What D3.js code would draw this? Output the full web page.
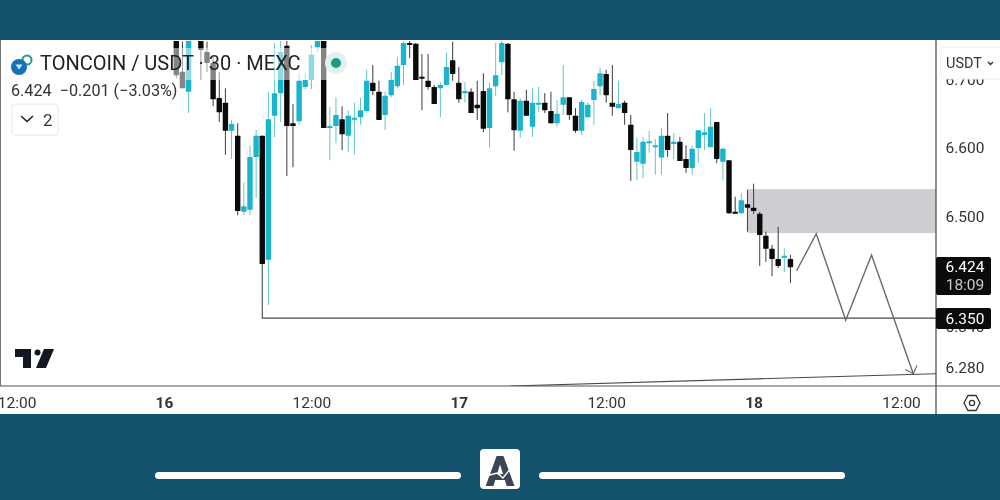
<!DOCTYPE html>
<html>
<head>
<meta charset="utf-8">
<script src="https://cdn.jsdelivr.net/npm/d3@7"></script>
<style>
  html, body { margin: 0; padding: 0; background: #14536b; overflow: hidden; }
  svg { display: block; font-family: Roboto, sans-serif; filter: blur(0.35px); }
</style>
</head>
<body>
<script>
// 30 min candles, first one is 16th 01:00, hours are counted from 16th 00:00
var firstHour = 1;
var opens = [6.759,6.710,6.681,6.770,6.759,6.739,6.723,6.672,6.665,6.624,6.617,6.506,6.509,6.586,6.617,6.436,6.646,6.679,6.748,6.635,6.638,6.688,6.698,6.746,6.759,6.628,6.631,6.641,6.617,6.641,6.644,6.653,6.694,6.681,6.647,6.676,6.689,6.720,6.752,6.751,6.703,6.697,6.688,6.686,6.691,6.727,6.694,6.679,6.681,6.662,6.682,6.628,6.689,6.724,6.751,6.670,6.624,6.668,6.630,6.663,6.665,6.653,6.635,6.662,6.673,6.646,6.624,6.644,6.669,6.689,6.707,6.665,6.657,6.665,6.633,6.579,6.576,6.608,6.600,6.585,6.617,6.605,6.608,6.583,6.570,6.599,6.618,6.600,6.637,6.579,6.581,6.506,6.504,6.517,6.512,6.503,6.471,6.452,6.437,6.440,6.437];
var highs = [6.759,6.754,6.759,6.775,6.759,6.754,6.732,6.710,6.686,6.640,6.635,6.549,6.603,6.625,6.617,6.681,6.752,6.755,6.755,6.663,6.708,6.708,6.749,6.759,6.759,6.659,6.673,6.660,6.654,6.665,6.672,6.713,6.720,6.697,6.681,6.710,6.732,6.755,6.755,6.752,6.736,6.736,6.691,6.695,6.738,6.754,6.717,6.695,6.686,6.697,6.708,6.694,6.752,6.755,6.752,6.681,6.672,6.684,6.686,6.688,6.679,6.681,6.669,6.720,6.673,6.657,6.669,6.665,6.697,6.716,6.713,6.720,6.697,6.668,6.647,6.614,6.615,6.624,6.612,6.628,6.650,6.621,6.615,6.603,6.603,6.625,6.650,6.657,6.637,6.600,6.581,6.528,6.533,6.538,6.547,6.506,6.477,6.458,6.484,6.453,6.443];
var lows = [6.701,6.686,6.650,6.762,6.698,6.710,6.660,6.637,6.589,6.583,6.501,6.501,6.501,6.526,6.430,6.370,6.615,6.637,6.558,6.571,6.633,6.685,6.685,6.739,6.628,6.581,6.606,6.596,6.593,6.589,6.633,6.650,6.676,6.640,6.625,6.673,6.686,6.691,6.730,6.698,6.654,6.684,6.663,6.644,6.691,6.697,6.665,6.665,6.650,6.640,6.622,6.600,6.675,6.705,6.651,6.595,6.614,6.646,6.615,6.651,6.650,6.635,6.630,6.647,6.640,6.621,6.618,6.643,6.633,6.676,6.665,6.646,6.657,6.633,6.551,6.552,6.555,6.592,6.560,6.560,6.586,6.583,6.580,6.563,6.560,6.577,6.596,6.600,6.577,6.552,6.503,6.503,6.503,6.477,6.503,6.427,6.433,6.412,6.424,6.418,6.402];
var closes = [6.705,6.686,6.759,6.765,6.742,6.723,6.670,6.651,6.624,6.634,6.507,6.514,6.586,6.617,6.430,6.641,6.679,6.739,6.631,6.631,6.697,6.698,6.735,6.759,6.628,6.631,6.647,6.619,6.646,6.643,6.654,6.697,6.682,6.640,6.675,6.698,6.719,6.752,6.749,6.698,6.701,6.688,6.663,6.691,6.717,6.707,6.670,6.682,6.650,6.657,6.627,6.686,6.705,6.752,6.670,6.625,6.668,6.646,6.665,6.665,6.654,6.635,6.649,6.673,6.647,6.624,6.666,6.662,6.685,6.708,6.676,6.659,6.663,6.650,6.596,6.593,6.608,6.609,6.603,6.617,6.596,6.608,6.580,6.570,6.598,6.625,6.622,6.630,6.583,6.598,6.504,6.503,6.523,6.512,6.507,6.472,6.452,6.437,6.427,6.442,6.425];

// axis labels
var timeTicks = [-12, 0, 12, 24, 36, 48, 60];
var timeLabels = ["12:00", "16", "12:00", "17", "12:00", "18", "12:00"];
var priceTicks = [6.7, 6.6, 6.5, 6.34, 6.28];

// drawings on the chart, in hours and price
var zoneHours = [47.5, 62.9];
var zonePrices = [6.539, 6.475];
var pathHours = [51.5, 53.1, 55.5, 57.6, 61.0];
var pathPrices = [6.420, 6.474, 6.348, 6.443, 6.270];
var arrowHours = [60.35, 61.0, 61.3];
var arrowPrices = [6.276, 6.270, 6.282];
var levelHours = [8, 8, 62.9];
var levelPrices = [6.430, 6.351, 6.351];
var trendHours = [28.2, 62.9];
var trendPrices = [6.252, 6.270];

var lastPrice = "6.424", lastCountdown = "18:09", levelLabel = "6.350";

var w = 1000, h = 500;
var paneTop = 40, paneBottom = 414, axisX = 936, axisY = 386;
var upColor = "#1bb4cd", upWick = "#62c6c9", downColor = "#0b0b0b", downWick = "#3b3b3b";
var bodyWidth = 5.4;

var x = d3.scaleLinear().domain([0, 60]).range([164, 901]);
var y = d3.scaleLinear().domain([6.755, 6.28]).range([41, 366.8]);

var svg = d3.select("body").append("svg").attr("width", w).attr("height", h);

svg.append("rect").attr("width", w).attr("height", h).attr("fill", "#14536b");
svg.append("rect").attr("y", paneTop).attr("width", w).attr("height", paneBottom - paneTop).attr("fill", "#fff");

svg.append("clipPath").attr("id", "pane").append("rect")
  .attr("x", 0).attr("y", 41).attr("width", axisX).attr("height", axisY - 41);

var pane = svg.append("g").attr("clip-path", "url(#pane)");

// gray zone goes under the candles
pane.append("rect")
  .attr("x", x(zoneHours[0]))
  .attr("y", y(zonePrices[0]))
  .attr("width", x(zoneHours[1]) - x(zoneHours[0]))
  .attr("height", y(zonePrices[1]) - y(zonePrices[0]))
  .attr("fill", "#cfcdd2");

var line = d3.line().x(function(d) { return x(d[0]); }).y(function(d) { return y(d[1]); });

var candles = pane.selectAll("g.candle")
  .data(d3.range(opens.length))
  .enter()
  .append("g")
  .attr("class", "candle");

candles.append("line")
  .attr("x1", function(i) { return x(firstHour + i / 2); })
  .attr("x2", function(i) { return x(firstHour + i / 2); })
  .attr("y1", function(i) { return y(highs[i]); })
  .attr("y2", function(i) { return y(lows[i]); })
  .attr("stroke", function(i) { return closes[i] >= opens[i] ? upWick : downWick; })
  .attr("stroke-width", 1);

candles.append("rect")
  .attr("x", function(i) { return x(firstHour + i / 2) - bodyWidth / 2; })
  .attr("y", function(i) { return y(Math.max(opens[i], closes[i])); })
  .attr("width", bodyWidth)
  .attr("height", function(i) { return Math.max(2, Math.abs(y(opens[i]) - y(closes[i]))); })
  .attr("rx", 0.6)
  .attr("fill", function(i) { return closes[i] >= opens[i] ? upColor : downColor; });

// the level line, projected path and the long trend line
pane.append("path")
  .attr("d", line(d3.zip(levelHours, levelPrices)))
  .attr("fill", "none").attr("stroke", "#4a4a4a").attr("stroke-width", 1.1);
pane.append("path")
  .attr("d", line(d3.zip(trendHours, trendPrices)))
  .attr("fill", "none").attr("stroke", "#4a4a4a").attr("stroke-width", 1.1);
pane.append("path")
  .attr("d", line(d3.zip(pathHours, pathPrices)))
  .attr("fill", "none").attr("stroke", "#6a6a6a").attr("stroke-width", 1.4);
pane.append("path")
  .attr("d", line(d3.zip(arrowHours, arrowPrices)))
  .attr("fill", "none").attr("stroke", "#6a6a6a").attr("stroke-width", 1.2);

// legend backdrop fades whatever runs under the title
svg.append("rect").attr("x", 0).attr("y", 48).attr("width", 345).attr("height", 32).attr("fill", "#fff").attr("opacity", 0.5);
svg.append("rect").attr("x", 0).attr("y", 80).attr("width", 185).attr("height", 20).attr("fill", "#fff").attr("opacity", 0.5);

// frame
svg.append("line").attr("x1", 0.5).attr("x2", 0.5).attr("y1", paneTop).attr("y2", axisY).attr("stroke", "#777").attr("stroke-width", 1);
svg.append("line").attr("x1", axisX).attr("x2", axisX).attr("y1", paneTop).attr("y2", paneBottom).attr("stroke", "#444").attr("stroke-width", 1.2);
svg.append("line").attr("x1", 0).attr("x2", w).attr("y1", axisY).attr("y2", axisY).attr("stroke", "#555").attr("stroke-width", 1.2);

// time axis
var xAxis = d3.axisBottom(x)
  .tickValues(timeTicks)
  .tickSize(0)
  .tickFormat(function(d, i) { return timeLabels[i]; });
var gx = svg.append("g").attr("transform", "translate(0," + axisY + ")").call(xAxis);
gx.select(".domain").remove();
gx.selectAll("text")
  .attr("y", 11)
  .attr("dy", "0.71em")
  .attr("font-family", "Roboto, sans-serif")
  .attr("font-size", 15.5)
  .attr("fill", "#333")
  .attr("font-weight", function(d, i) { return timeLabels[i].length == 2 ? 700 : 400; });

// price axis
var yAxis = d3.axisRight(y)
  .tickValues(priceTicks)
  .tickSize(0)
  .tickFormat(d3.format(".3f"));
var gy = svg.append("g").attr("transform", "translate(" + axisX + ",0)").call(yAxis);
gy.select(".domain").remove();
gy.selectAll("text")
  .attr("x", 29)
  .attr("dy", "0.35em")
  .attr("text-anchor", "middle")
  .attr("font-family", "Roboto, sans-serif")
  .attr("font-size", 15.5)
  .attr("fill", "#333");

// currency button
svg.append("rect").attr("x", 941).attr("y", 47).attr("width", 70).attr("height", 32)
  .attr("rx", 3).attr("fill", "#fff").attr("stroke", "#eeeeee");
svg.append("text").attr("x", 946).attr("y", 68).attr("font-size", 14.5).attr("fill", "#333").text("USDT");
svg.append("path").attr("d", "M988 62 l2.5 2.5 l2.5 -2.5").attr("fill", "none").attr("stroke", "#333").attr("stroke-width", 1.4);

// last price and level labels
svg.append("rect").attr("x", axisX).attr("y", 257).attr("width", 55).attr("height", 38).attr("rx", 2).attr("fill", "#0b0b0b");
svg.append("text").attr("x", 965).attr("y", 272).attr("text-anchor", "middle").attr("font-size", 15.5).attr("fill", "#fff").text(lastPrice);
svg.append("text").attr("x", 965).attr("y", 290).attr("text-anchor", "middle").attr("font-size", 15.5).attr("fill", "#c9c9c9").text(lastCountdown);
svg.append("rect").attr("x", axisX).attr("y", 308).attr("width", 55).attr("height", 21).attr("rx", 2).attr("fill", "#0b0b0b");
svg.append("text").attr("x", 965).attr("y", 324).attr("text-anchor", "middle").attr("font-size", 15.5).attr("fill", "#fff").text(levelLabel);

// legend text
svg.append("circle").attr("cx", 27).attr("cy", 60).attr("r", 4.5).attr("fill", "none").attr("stroke", "#1f9e8f").attr("stroke-width", 2);
svg.append("circle").attr("cx", 19).attr("cy", 67).attr("r", 8).attr("fill", "#1572b6");
svg.append("path").attr("d", "M15.5 64.5 h7 l-3.5 5 z").attr("fill", "#cfe6f5");
svg.append("text").attr("x", 40).attr("y", 70).attr("font-size", 20).attr("fill", "#222").text("TONCOIN / USDT · 30 · MEXC");
svg.append("text").attr("x", 11).attr("y", 96).attr("font-size", 16.2).attr("fill", "#333").attr("xml:space", "preserve").text("6.424  −0.201 (−3.03%)");
svg.append("rect").attr("x", 12).attr("y", 104).attr("width", 46).attr("height", 31).attr("rx", 3).attr("fill", "#fff").attr("stroke", "#e6e6e6");
svg.append("path").attr("d", "M21 116 l6 5.5 l6 -5.5").attr("fill", "none").attr("stroke", "#222").attr("stroke-width", 1.6);
svg.append("text").attr("x", 43).attr("y", 126).attr("font-size", 17).attr("fill", "#333").text("2");

// market status dot
svg.append("circle").attr("cx", 336).attr("cy", 63).attr("r", 11).attr("fill", "#e4f1ef");
svg.append("circle").attr("cx", 336).attr("cy", 63).attr("r", 5).attr("fill", "#14a085");

// tradingview mark
svg.append("path").attr("fill", "#131722")
  .attr("d", "M15 349 h16 v19 h-8 v-11 h-8 z M44 349 h10 l-8 19 h-10 z");
svg.append("circle").attr("cx", 37.5).attr("cy", 352.5).attr("r", 3).attr("fill", "#131722");

// settings hexagon
svg.append("path").attr("d", "M964 403 l4 -7.5 h8 l4 7.5 l-4 7.5 h-8 z").attr("fill", "none").attr("stroke", "#333").attr("stroke-width", 1.3);
svg.append("circle").attr("cx", 972).attr("cy", 403).attr("r", 2.6).attr("fill", "none").attr("stroke", "#333").attr("stroke-width", 1.3);

// bottom band with logo
svg.append("rect").attr("x", 155).attr("y", 472).attr("width", 306).attr("height", 7).attr("rx", 3.5).attr("fill", "#fff");
svg.append("rect").attr("x", 539).attr("y", 472).attr("width", 306).attr("height", 7).attr("rx", 3.5).attr("fill", "#fff");
svg.append("rect").attr("x", 480).attr("y", 449).attr("width", 40).attr("height", 40).attr("rx", 4).attr("fill", "#fff");
svg.append("text").attr("x", 500).attr("y", 486).attr("text-anchor", "middle").attr("font-size", 42).attr("font-weight", 900).attr("fill", "#3a4656").text("A");
svg.append("path").attr("d", "M486 476 L497 473 L503 478 L515 463").attr("fill", "none").attr("stroke", "#fff").attr("stroke-width", 1.4);
</script>
</body>
</html>
